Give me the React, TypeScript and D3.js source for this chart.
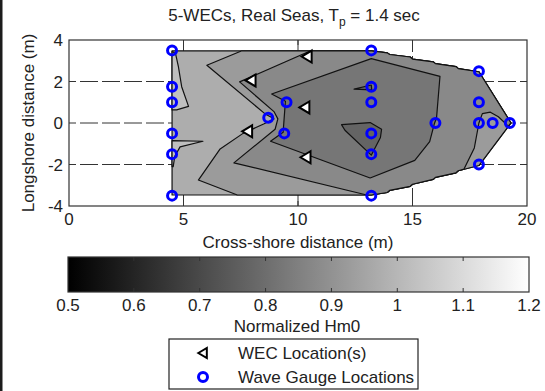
import React from 'react';
import * as d3 from 'd3';

type P = [number, number];

// ---- axis / colorbar ticks ----
const xTicks = [0, 5, 10, 15, 20];
const yTicks = [-4, -2, 0, 2, 4];
const gridX = [5, 10, 15];
const gridY = [-2, 0, 2];
const cbTicks = [0.5, 0.6, 0.7, 0.8, 0.9, 1, 1.1, 1.2];
const cbTickLabels = ['0.5', '0.6', '0.7', '0.8', '0.9', '1', '1.1', '1.2'];

// ---- wave gauge locations (m) ----
const gaugeX = [4.5, 4.5, 4.5, 4.5, 4.5, 4.5, 8.7, 9.5, 9.4, 13.2, 13.2, 13.2, 13.2, 13.2, 13.2, 16.0, 17.9, 17.9, 17.9, 18.5, 19.25, 17.9];
const gaugeY = [3.5, 1.75, 1.0, -0.5, -1.5, -3.5, 0.25, 1.0, -0.5, 3.5, 1.75, 1.0, -0.5, -1.5, -3.5, 0.0, 2.5, 1.0, 0.0, 0.0, 0.0, -2.0];

// ---- WEC locations (m) ----
const wecX = [10.4, 7.95, 10.3, 7.8, 10.35];
const wecY = [3.2, 2.05, 0.75, -0.4, -1.65];

// ---- contour geometry (m) : hull of interpolated data ----
const hullUpperRight: P[] = [[13.2, 3.48], [13.9, 3.38], [14.0, 3.3], [14.9, 3.18], [15.0, 3.08], [15.9, 2.95], [16.0, 2.86], [16.9, 2.72], [17.0, 2.62], [17.9, 2.47]];
const hullTip: P[] = [[19.3, 0.0]];
const hullLowerRight: P[] = [[17.9, -2.05], [17.0, -2.3], [16.9, -2.4], [16.0, -2.62], [15.9, -2.72], [15.0, -2.95], [14.9, -3.05], [14.0, -3.25], [13.9, -3.35], [13.2, -3.47]];
const hullLeft: P[] = [[4.5, -3.47], [4.5, 3.48]];

// contour lines
const spikeUpper: P[] = [[4.5, 3.45], [4.65, 3.36], [4.78, 2.7], [4.92, 1.75], [5.22, 0.8], [4.7, 0.63], [4.5, 0.63]];
const spikeLower: P[] = [[4.5, -0.85], [5.85, -0.88], [4.85, -1.15], [4.62, -1.6], [4.55, -2.1], [4.5, -2.1]];
const lineA: P[] = [[7.55, 3.48], [6.02, 2.78], [8.55, 0.45], [8.95, 0.2], [8.5, -0.05], [7.6, -0.5], [6.6, -1.25], [5.65, -2.75], [7.35, -3.47]];
const lineBLeft: P[] = [[10.55, 3.48], [7.45, 1.98], [8.95, 0.55], [9.12, 0.2], [9.0, -0.3], [7.2, -1.92], [13.0, -3.47]];
const lineBRight: P[] = [[17.25, -2.22], [17.7, -1.2], [17.9, 0.0], [18.05, 0.45], [18.4, 0.52], [18.75, 0.3], [19.18, -0.15]];
const bigPoly: P[] = [[8.85, 1.4], [13.2, 3.1], [16.2, 2.25], [16.05, 0.25], [15.95, -0.05], [15.75, -0.9], [15.1, -1.8], [13.15, -2.65], [8.8, -0.88], [9.35, -0.45], [9.45, 1.05]];
const innerPoly: P[] = [[11.9, -0.08], [13.15, 0.02], [13.65, -0.3], [13.6, -0.7], [13.2, -1.55], [12.05, -0.35]];
const innerSpike: P[] = [[12.45, 1.63], [13.2, 1.83], [13.22, 1.6]];

// band values (Normalized Hm0) for each filled region
const regionLevels = [0.975, 1.025, 1.025, 0.925, 0.875, 0.825, 0.775, 0.775];

const hull: P[] = [[4.5, 3.48], ...hullUpperRight, ...hullTip, ...hullLowerRight, [4.5, -3.47]];
const level1: P[] = [...lineA, ...[...hullLowerRight].reverse(), ...hullTip, ...[...hullUpperRight].reverse()];
const level2: P[] = [
  ...lineBLeft,
  ...[...hullLowerRight].reverse().filter((p) => p[0] < 17.1),
  ...lineBRight,
  ...hullTip,
  ...[...hullUpperRight].reverse(),
];
const regionShapes: P[][] = [hull, spikeUpper, spikeLower, level1, level2, bigPoly, innerPoly, innerSpike];

const W = 545;
const H = 391;
const FONT = "'Liberation Sans', Arial, Helvetica, sans-serif";

export default function App() {
  const x = d3.scaleLinear().domain([0, 20]).range([69, 527]);
  const y = d3.scaleLinear().domain([-4, 4]).range([206, 40]);
  const cbX = d3.scaleLinear().domain([0.5, 1.2]).range([68, 529]);
  const gray = d3.scaleLinear<string>().domain([0.5, 1.2]).range(['#000000', '#ffffff']).interpolate(d3.interpolateRgb);
  const poly = d3.line<P>().x((d) => x(d[0])).y((d) => y(d[1])).curve(d3.curveLinearClosed);

  const [x0, x1] = x.range();
  const [y0, y1] = y.range();
  const cbTop = 257;
  const cbBot = 292;
  const stops = d3.range(0, 1.0001, 0.1);

  const tri = (cx: number, cy: number, s: number) =>
    `M${cx - s * 5.5},${cy} L${cx + s * 4.5},${cy - s * 6} L${cx + s * 4.5},${cy + s * 6} Z`;

  return (
    <svg width={W} height={H} style={{ position: 'absolute', left: 0, top: 0, background: '#fff' }} fontFamily={FONT}>
      <defs>
        <linearGradient id="cbg" x1="0" x2="1" y1="0" y2="0">
          {stops.map((t) => (
            <stop key={t} offset={t} stopColor={gray(0.5 + t * 0.7)} />
          ))}
        </linearGradient>
      </defs>
      <rect x={0} y={0} width={W} height={H} fill="#fff" />
      <rect x={0} y={0} width={2.5} height={H} fill="#1c1c1c" />

      {/* grid */}
      {gridY.map((v) => (
        <line key={'gy' + v} x1={x0} x2={x1} y1={y(v)} y2={y(v)} stroke="#333" strokeWidth={1} strokeDasharray="18,4" strokeDashoffset={11} />
      ))}
      {gridX.map((v) => (
        <line key={'gx' + v} x1={x(v)} x2={x(v)} y1={y0} y2={y1} stroke="#333" strokeWidth={1} strokeDasharray="18,4" />
      ))}

      {/* filled contours */}
      {regionShapes.map((pts, i) => (
        <path key={'r' + i} d={poly(pts) || ''} fill={gray(regionLevels[i])} stroke="#111" strokeWidth={1.2} strokeLinejoin="round" />
      ))}

      {/* axes box */}
      <rect x={x0} y={y1} width={x1 - x0} height={y0 - y1} fill="none" stroke="#333" strokeWidth={1.2} />
      {gridX.map((v) => (
        <g key={'tx' + v}>
          <line x1={x(v)} x2={x(v)} y1={y0} y2={y0 - 5} stroke="#333" />
          <line x1={x(v)} x2={x(v)} y1={y1} y2={y1 + 5} stroke="#333" />
        </g>
      ))}

      {/* WEC markers */}
      {wecX.map((v, i) => (
        <path key={'w' + i} d={tri(x(v), y(wecY[i]), 1)} fill="#fff" stroke="#000" strokeWidth={2} strokeLinejoin="miter" />
      ))}
      {/* gauges */}
      {gaugeX.map((v, i) => (
        <circle key={'g' + i} cx={x(v)} cy={y(gaugeY[i])} r={4.5} fill="none" stroke="#0000ff" strokeWidth={3} />
      ))}

      {/* tick labels */}
      {xTicks.map((v) => (
        <text key={'xl' + v} x={x(v)} y={225} textAnchor="middle" fontSize={17} fill="#222">{v}</text>
      ))}
      {yTicks.map((v) => (
        <text key={'yl' + v} x={63} y={y(v)} dy="0.36em" textAnchor="end" fontSize={17} fill="#222">{v}</text>
      ))}
      <text x={(x0 + x1) / 2} y={248} textAnchor="middle" fontSize={17} fill="#222">Cross-shore distance (m)</text>
      <text transform={`translate(34,${(y0 + y1) / 2}) rotate(-90)`} textAnchor="middle" fontSize={17} fill="#222">Longshore distance (m)</text>
      <text x={294} y={21} textAnchor="middle" fontSize={17} fill="#222">
        5-WECs, Real Seas, T<tspan fontSize={12} dy={5}>p</tspan><tspan dy={-5}> = 1.4 sec</tspan>
      </text>

      {/* colorbar */}
      <rect x={cbX(0.5)} y={cbTop} width={cbX(1.2) - cbX(0.5)} height={cbBot - cbTop} fill="url(#cbg)" stroke="#333" strokeWidth={1.2} />
      {cbTicks.slice(1, -1).map((v) => (
        <g key={'cbt' + v}>
          <line x1={cbX(v)} x2={cbX(v)} y1={cbTop} y2={cbTop + 4} stroke="#333" />
          <line x1={cbX(v)} x2={cbX(v)} y1={cbBot} y2={cbBot - 4} stroke="#333" />
        </g>
      ))}
      {cbTicks.map((v, i) => (
        <text key={'cbl' + v} x={cbX(v)} y={311} textAnchor="middle" fontSize={17} fill="#222">{cbTickLabels[i]}</text>
      ))}
      <text x={297} y={332} textAnchor="middle" fontSize={17} fill="#222">Normalized Hm0</text>

      {/* legend */}
      <rect x={169} y={339} width={249} height={50} fill="#fff" stroke="#222" strokeWidth={1.2} />
      <path d={tri(203, 353, 0.85)} fill="#fff" stroke="#000" strokeWidth={2} />
      <circle cx={203} cy={377} r={4.5} fill="none" stroke="#0000ff" strokeWidth={3} />
      <text x={238} y={359} fontSize={17} fill="#222">WEC Location(s)</text>
      <text x={238} y={383} fontSize={17} fill="#222">Wave Gauge Locations</text>
    </svg>
  );
}
